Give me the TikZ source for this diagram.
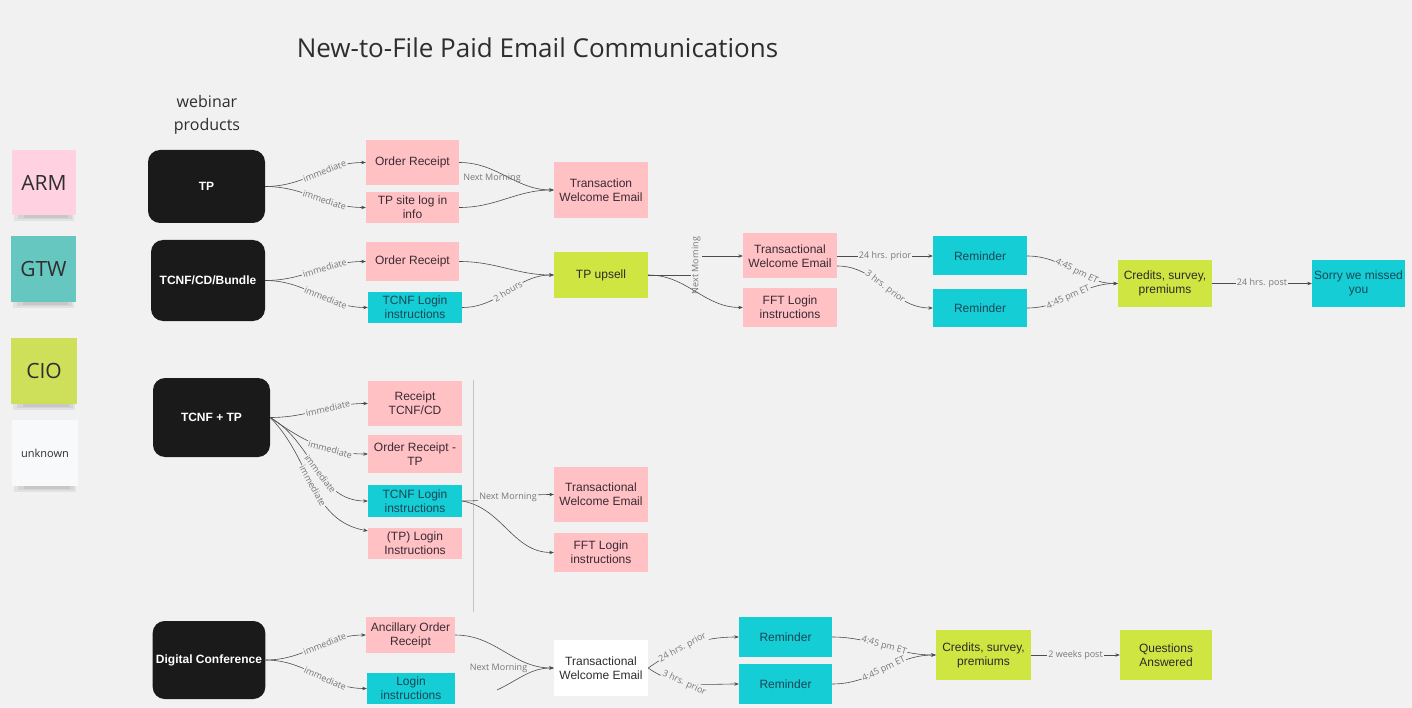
\documentclass[tikz,border=0pt]{standalone}
\usepackage{fontspec}
\setmainfont{Liberation Sans}
\newfontfamily\osans{Open Sans}
\usetikzlibrary{arrows.meta}
\definecolor{bg}{HTML}{F1F1F1}
\definecolor{cPink}{HTML}{FFC1C3}
\definecolor{cPinkTxt}{HTML}{3A2A35}
\definecolor{cCyan}{HTML}{14CDD5}
\definecolor{cCyanTxt}{HTML}{1A4656}
\definecolor{cLime}{HTML}{CFE642}
\definecolor{cLimeTxt}{HTML}{2A2A2A}
\definecolor{cBlack}{HTML}{1A1A1A}
\definecolor{cDark}{HTML}{2E2E2E}
\definecolor{cEdge}{HTML}{4D4D4D}
\definecolor{cLbl}{HTML}{777777}
\definecolor{cLine}{HTML}{C4C4C4}
\definecolor{cArm}{HTML}{FFD1E1}
\definecolor{cGtw}{HTML}{66C7C0}
\definecolor{cCio}{HTML}{CEE05A}
\definecolor{cUnk}{HTML}{F8F9FA}
\tikzset{
  sz/.style 2 args={minimum width=#1pt, minimum height=#2pt},
  box/.style={draw=none, inner sep=1pt, align=center, font=\fontsize{12}{14}\selectfont},
  pk/.style={box, fill=cPink, text=cPinkTxt},
  cy/.style={box, fill=cCyan, text=cCyanTxt},
  lm/.style={box, fill=cLime, text=cLimeTxt},
  wh/.style={box, fill=white, text=cDark},
  blk/.style={fill=cBlack, rounded corners=12pt, text=white, align=center, font=\fontsize{12}{14}\selectfont\bfseries},
  sticky/.style={draw=none, text=cDark, font=\osans\fontsize{21}{24}\selectfont},
  edge/.style={draw=cEdge, line width=0.6pt, -{Stealth[length=4.5pt,width=3.5pt]}},
  lbl/.style={fill=bg, inner sep=1pt, text=cLbl, font=\osans\fontsize{9}{10}\selectfont},
  shad/.style={fill=black, opacity=0.06},
}
\begin{document}
\begin{tikzpicture}[x=1pt,y=-1pt]
\fill[bg] (0,0) rectangle (1412,708);
\useasboundingbox (0,0) rectangle (1412,708);

% title
\node[font=\osans\fontsize{26}{30}\selectfont, text=cDark] (title) at (537.5,48) {New-to-File Paid Email Communications};
\node[align=center, font=\osans\fontsize{16}{23}\selectfont, text=cDark] (web) at (207,114.5) {webinar\\products};

% legend
\node[sticky, fill=cArm, sz={64}{65}] (arm) at (44,182.5) {ARM};
\node[sticky, fill=cGtw, sz={65}{66}] (gtw) at (43.5,269) {GTW};
\node[sticky, fill=cCio, sz={66}{66}] (cio) at (44,371) {CIO};
\node[sticky, fill=cUnk, sz={66}{66}, font=\osans\fontsize{11}{13}\selectfont] (unk) at (45,453) {unknown};
\foreach \s in {arm,gtw,cio,unk}{
  \fill[shad] ([xshift=2pt]\s.south west) rectangle ([xshift=-2pt,yshift=-6pt]\s.south east);
  \fill[shad] ([xshift=6pt]\s.south west) rectangle ([xshift=-4pt,yshift=-4pt]\s.south east);
  \fill[shad] ([xshift=12pt]\s.south west) rectangle ([xshift=-8pt,yshift=-2.5pt]\s.south east);
}

% product boxes
\node[blk, sz={117}{73}] (tp) at (206.5,186.5) {TP};
\node[blk, sz={114}{81}] (tcnf) at (208,280.5) {TCNF/CD/Bundle};
\node[blk, sz={117}{79}] (tt) at (211.5,417.5) {TCNF + TP};
\node[blk, sz={112}{78}] (dc) at (209,660) {Digital Conference};

% row 1
\node[pk, sz={93}{45}] (or1) at (412.5,162.5) {Order Receipt};
\node[pk, sz={93}{31}] (tps) at (412.5,207.5) {TP site log in\\info};
\node[pk, sz={94}{56}] (tw1) at (601,190) {Transaction\\Welcome Email};

% row 2
\node[pk, sz={93}{39}] (or2) at (412.5,261.5) {Order Receipt};
\node[cy, sz={94}{31}] (tl2) at (415,307.5) {TCNF Login\\instructions};
\node[lm, sz={94}{46}] (ups) at (601,275) {TP upsell};
\node[pk, sz={94}{45}] (tw2) at (790,256) {Transactional\\Welcome Email};
\node[pk, sz={94}{39}] (fft2) at (790,307.5) {FFT Login\\instructions};
\node[cy, sz={94}{39}] (rm1) at (980,256) {Reminder};
\node[cy, sz={94}{38}] (rm2) at (980,308) {Reminder};
\node[lm, sz={94}{47}] (cr2) at (1165,283.5) {Credits, survey,\\premiums};
\node[cy, sz={93}{47}] (sorry) at (1358.5,283.5) {Sorry we missed\\you};

% row 3
\draw[cLine, line width=0.6pt] (473,380) -- (473,612);
\node[pk, sz={94}{45}] (rt) at (415,403.5) {Receipt\\TCNF/CD};
\node[pk, sz={94}{38}] (ortp) at (415,454) {Order Receipt -\\TP};
\node[cy, sz={94}{32}] (tl3) at (415,501) {TCNF Login\\instructions};
\node[pk, sz={94}{31}] (tpl) at (415,543.5) {(TP) Login\\Instructions};
\node[pk, sz={94}{55}] (tw3) at (601,494.5) {Transactional\\Welcome Email};
\node[pk, sz={94}{39}] (fft3) at (601,552.5) {FFT Login\\instructions};

% row 4
\node[pk, sz={89}{36}] (anc) at (410.5,635) {Ancillary Order\\Receipt};
\node[cy, sz={88}{31}] (lg4) at (411,688.5) {Login\\instructions};
\node[wh, sz={94}{56}] (tw4) at (601,668) {Transactional\\Welcome Email};
\node[cy, sz={93}{40}] (rm3) at (785.5,637) {Reminder};
\node[cy, sz={93}{40}] (rm4) at (785.5,684) {Reminder};
\node[lm, sz={95}{50}] (cr4) at (983.5,655) {Credits, survey,\\premiums};
\node[lm, sz={92}{50}] (qa) at (1166,655) {Questions\\Answered};

% ---- edges row 1
\draw[edge] (tp.east) to[out=0,in=180] node[lbl,sloped,pos=0.6]{immediate} (or1.west);
\draw[edge] (tp.east) to[out=0,in=180] node[lbl,sloped,pos=0.6]{immediate} (tps.west);
\draw[edge] (or1.east) to[out=0,in=180] (tw1.west);
\draw[edge] (tps.east) to[out=0,in=180] (tw1.west);
\node[lbl, fill=none] (nm1) at (492,178) {Next Morning};

% ---- edges row 2
\draw[edge] (tcnf.east) to[out=0,in=180] node[lbl,sloped,pos=0.6]{immediate} (or2.west);
\draw[edge] (tcnf.east) to[out=0,in=180] node[lbl,sloped,pos=0.6]{immediate} (tl2.west);
\draw[edge] (or2.east) to[out=0,in=180] (ups.west);
\draw[edge] (tl2.east) to[out=0,in=180] node[lbl,sloped,pos=0.5]{2 hours} (ups.west);
\draw[edge] (ups.east) -- ++(48,0) |- node[lbl,rotate=90,pos=0.25]{Next Morning} (tw2.west);
\draw[edge] (ups.east) to[out=0,in=180] (fft2.west);
\draw[edge] (tw2.east) -- node[lbl]{24 hrs. prior} (rm1.west);
\draw[edge] ([yshift=-10pt]tw2.east) to[out=0,in=180] node[lbl,sloped,pos=0.5]{3 hrs. prior} (rm2.west);
\draw[edge] (rm1.east) to[out=0,in=180] node[lbl,sloped,pos=0.55]{4:45 pm ET} (cr2.west);
\draw[edge] (rm2.east) to[out=0,in=180] node[lbl,sloped,pos=0.45]{4:45 pm ET} (cr2.west);
\draw[edge] (cr2.east) -- node[lbl]{24 hrs. post} (sorry.west);

% ---- edges row 3
\draw[edge] (tt.east) to[out=0,in=180] node[lbl,sloped,pos=0.6]{immediate} (rt.west);
\draw[edge] (tt.east) to[out=-35,in=180] node[lbl,sloped,pos=0.65]{immediate} (ortp.west);
\draw[edge] (tt.east) to[out=-30,in=180] node[lbl,sloped,pos=0.55]{immediate} (tl3.west);
\draw[edge] (tt.east) to[out=-45,in=170] node[lbl,sloped,pos=0.5]{immediate} (tpl.165);
\draw[edge] (tl3.east) to[out=0,in=180] node[lbl,pos=0.5]{Next Morning} (tw3.west);
\draw[edge] (tl3.east) to[out=-10,in=180] (fft3.west);

% ---- edges row 4
\draw[edge] (dc.east) to[out=0,in=180] node[lbl,sloped,pos=0.6]{immediate} (anc.west);
\draw[edge] (dc.east) to[out=0,in=180] node[lbl,sloped,pos=0.6]{immediate} (lg4.west);
\draw[edge] (anc.east) to[out=0,in=180] (tw4.west);
\coordinate (nm4free) at (497,690);
\draw[edge] (nm4free) to[out=25,in=180] (tw4.west);
\node[lbl, fill=none] (nm4) at (498.5,668) {Next Morning};
\draw[edge] (tw4.east) to[out=35,in=180] node[lbl,pos=0.4,rotate=28]{24 hrs. prior} (rm3.west);
\draw[edge] (tw4.east) to[out=-35,in=180] node[lbl,pos=0.42,rotate=-25]{3 hrs. prior} (rm4.west);
\draw[edge] (rm3.east) to[out=0,in=180] node[lbl,sloped,pos=0.5]{4:45 pm ET} (cr4.west);
\draw[edge] (rm4.east) to[out=0,in=180] node[lbl,sloped,pos=0.5]{4:45 pm ET} (cr4.west);
\draw[edge] (cr4.east) -- node[lbl]{2 weeks post} (qa.west);
\end{tikzpicture}
\end{document}
